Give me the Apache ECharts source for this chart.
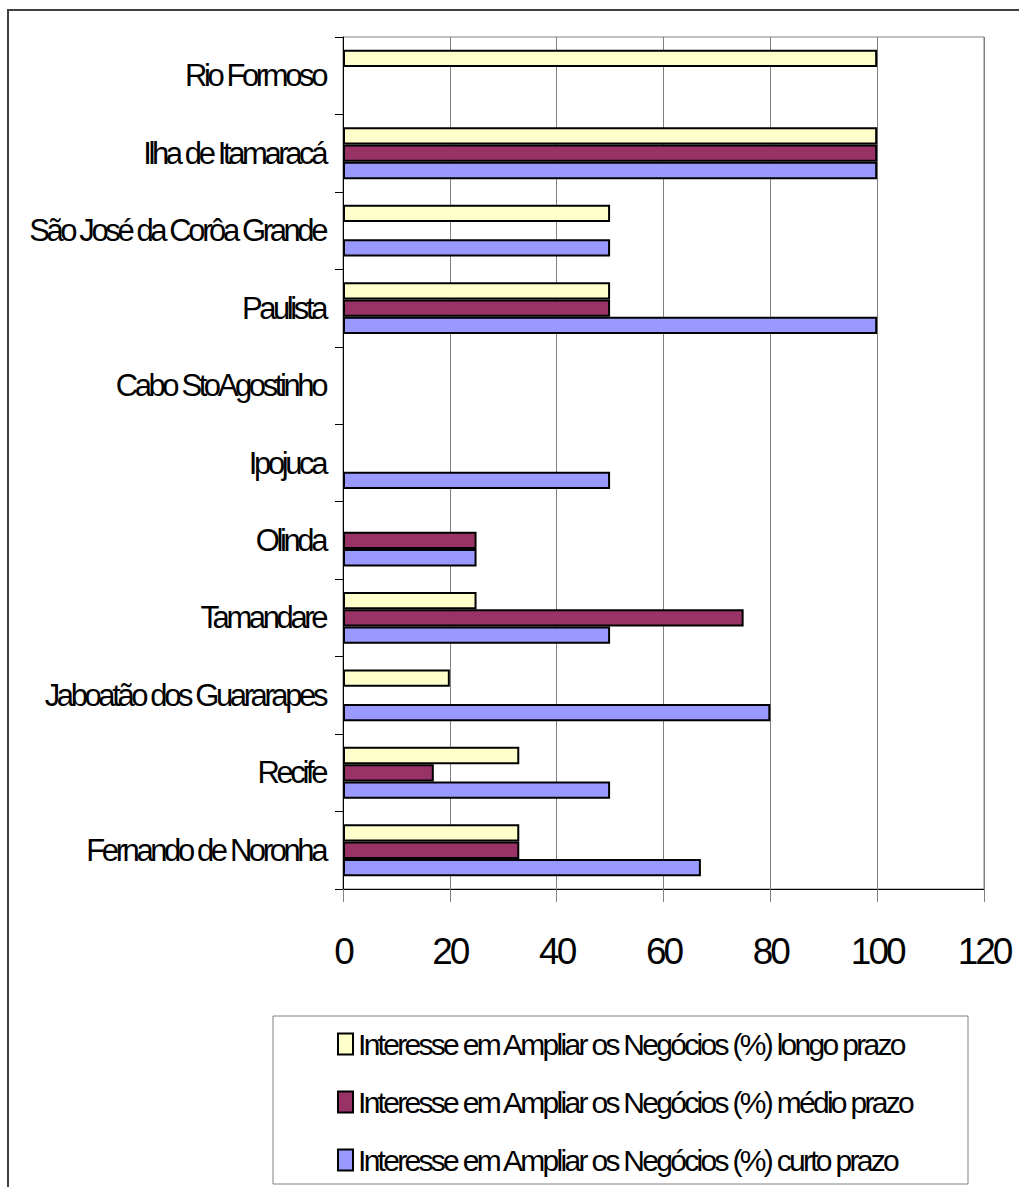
<!DOCTYPE html>
<html>
<head>
<meta charset="utf-8">
<script src="https://cdn.jsdelivr.net/npm/echarts@6/dist/echarts.min.js"></script>
<style>
  html, body { margin: 0; padding: 0; background: #fff; }
  #chart { width: 1019px; height: 1187px; }
</style>
</head>
<body>
<div id="chart"></div>
<script>
// categories bottom -> top (category y axis starts at the bottom)
const categories = [
  'Fernando de Noronha', 'Recife', 'Jaboatão dos Guararapes', 'Tamandare', 'Olinda',
  'Ipojuca', 'Cabo StoAgostinho', 'Paulista', 'São José da Corôa Grande',
  'Ilha de Itamaracá', 'Rio Formoso'
];
const seriesNames = [
  'Interesse em Ampliar os Negócios (%) longo prazo',
  'Interesse em Ampliar os Negócios (%) médio prazo',
  'Interesse em Ampliar os Negócios (%) curto prazo'
];
// blank cells kept as null
const longoPrazo = [33, 33, 20, 25, null, null, null, 50, 50, 100, 100];
const medioPrazo = [33, 17, null, 75, 25, null, null, 50, null, 100, null];
const curtoPrazo = [67, 50, 80, 50, 25, 50, null, 100, 50, 100, null];
const xTicks = [0, 20, 40, 60, 80, 100, 120];

const colors = ['#FFFFCC', '#993366', '#9999FF'];
const font = "'Liberation Sans', Arial, sans-serif";
// the original text is squeezed tight, so letter spacing per font size
const squeeze = {37: -3, 31: -3.4, 30: -2.7};

const chart = echarts.init(document.getElementById('chart'), null, {renderer: 'svg'});

const makeSeries = (name, data, color) => ({
  name,
  type: 'bar',
  data,
  barGap: '0%',
  barCategoryGap: '33%',
  itemStyle: {color, borderColor: '#000', borderWidth: 2},
  emphasis: {disabled: true}
});

chart.setOption({
  animation: false,
  textStyle: {fontFamily: font},
  graphic: [{
    type: 'rect',
    shape: {x: 8, y: 10, width: 1100, height: 1300},
    style: {fill: 'none', stroke: '#404040', lineWidth: 2},
    silent: true,
    z: -10
  }, {
    // legend frame
    type: 'rect',
    shape: {x: 273, y: 1016, width: 695, height: 168},
    style: {fill: 'none', stroke: '#808080', lineWidth: 1},
    silent: true,
    z: -10
  }],
  grid: {
    left: 343, right: 35, top: 37, bottom: 298,
    show: true, borderColor: '#808080', borderWidth: 1,
    outerBoundsMode: 'none'
  },
  xAxis: {
    type: 'value',
    min: xTicks[0],
    max: xTicks[xTicks.length - 1],
    interval: 20,
    axisLine: {show: true, lineStyle: {color: '#000', width: 1}},
    axisTick: {show: true, length: 13, lineStyle: {color: '#808080'}},
    splitLine: {show: true, lineStyle: {color: '#808080', width: 1}},
    axisLabel: {color: '#000', fontSize: 37, fontFamily: font, margin: 44}
  },
  yAxis: {
    type: 'category',
    data: categories,
    axisLine: {show: true, lineStyle: {color: '#000', width: 1}},
    axisTick: {show: true, length: 8, lineStyle: {color: '#000'}},
    axisLabel: {color: '#000', fontSize: 31, fontFamily: font, margin: 18}
  },
  legend: {
    orient: 'vertical',
    left: 273,
    top: 1016,
    height: 160,
    data: seriesNames,
    icon: 'rect',
    itemWidth: 15,
    itemHeight: 21,
    itemGap: 28,
    padding: [13, 0, 0, 64],
    textStyle: {color: '#000', fontSize: 30, fontFamily: font},
    selectedMode: false
  },
  series: [
    makeSeries(seriesNames[0], longoPrazo, colors[0]),
    makeSeries(seriesNames[1], medioPrazo, colors[1]),
    makeSeries(seriesNames[2], curtoPrazo, colors[2])
  ]
});

function squeezeText() {
  document.querySelectorAll('#chart svg text').forEach(t => {
    const fs = Math.round(parseFloat(getComputedStyle(t).fontSize));
    if (squeeze[fs] !== undefined) t.style.letterSpacing = squeeze[fs] + 'px';
  });
}
squeezeText();
chart.on('finished', squeezeText);
</script>
</body>
</html>
